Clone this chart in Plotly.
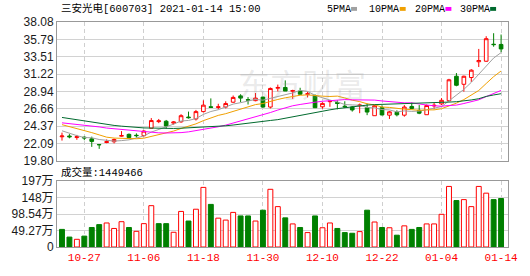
import plotly.graph_objects as go
import pandas as pd

# ---------------- data ----------------
dates = [d.strftime("%m-%d") for d in pd.bdate_range("2020-10-22", "2021-01-14")
         if d.strftime("%Y-%m-%d") != "2021-01-01"]

opens = [22.95, 23.05, 22.85, 22.90, 22.68, 21.93, 22.20, 22.30, 23.04, 23.27,
         23.15, 23.10, 24.08, 24.95, 25.00, 24.75, 24.92, 25.55, 25.30, 26.27,
         26.91, 26.82, 26.87, 27.51, 28.34, 27.85, 27.71, 28.18, 26.87, 29.35,
         29.45, 28.95, 28.98, 28.55, 28.39, 26.90, 27.58, 27.47, 26.98, 26.87,
         27.04, 26.78, 25.73, 26.78, 25.80, 26.18, 25.80, 26.95, 26.44, 25.86,
         27.02, 27.29, 27.71, 30.93, 29.87, 30.76, 32.84, 32.91, 35.15, 35.12]
highs = [23.50, 23.30, 23.20, 23.00, 22.97, 21.95, 22.60, 22.72, 23.70, 23.39,
         23.40, 23.82, 25.42, 25.30, 25.17, 25.00, 25.93, 26.27, 26.49, 27.76,
         28.01, 27.30, 27.63, 28.39, 28.56, 28.18, 28.72, 28.25, 29.45, 29.83,
         30.38, 29.15, 29.41, 28.90, 28.55, 27.50, 27.72, 27.76, 27.63, 27.00,
         27.33, 27.33, 27.16, 27.10, 26.36, 26.44, 27.13, 27.46, 27.13, 27.20,
         27.42, 28.05, 30.59, 31.35, 31.01, 31.86, 34.53, 36.21, 36.60, 36.43]
lows = [22.45, 22.75, 22.55, 22.50, 21.62, 21.36, 22.10, 22.08, 22.97, 22.72,
        22.85, 22.97, 24.03, 24.75, 24.03, 24.55, 24.79, 25.35, 25.09, 26.15,
        26.78, 26.57, 26.69, 27.42, 27.51, 27.20, 27.63, 26.78, 26.69, 28.93,
        28.98, 27.95, 28.47, 28.14, 26.78, 26.65, 26.90, 26.57, 26.78, 26.27,
        26.06, 25.80, 25.73, 25.77, 25.30, 25.64, 25.60, 26.57, 25.93, 25.86,
        26.57, 27.13, 27.63, 29.61, 28.90, 30.17, 32.15, 32.84, 34.82, 34.11]
closes = [23.05, 22.95, 22.97, 22.80, 22.34, 21.90, 22.30, 22.59, 23.10, 22.85,
          23.10, 23.70, 25.09, 25.05, 24.37, 24.90, 25.73, 25.47, 26.27, 27.12,
          26.82, 26.90, 27.33, 28.14, 28.05, 27.78, 28.05, 26.87, 29.32, 29.45,
          28.98, 29.05, 28.56, 28.62, 26.78, 27.35, 27.65, 27.35, 26.90, 26.49,
          27.13, 26.21, 27.04, 25.83, 26.24, 25.85, 26.87, 26.69, 26.06, 27.07,
          27.10, 27.76, 30.46, 29.74, 30.93, 31.73, 33.00, 35.88, 35.10, 34.53]
volumes = [526000, 296000, 230000, 325000, 583000, 669000, 718000, 554000, 756000, 583000,
           468000, 698000, 1235000, 698000, 698000, 440000, 1063000, 776000, 1129000, 1781000,
           1273000, 862000, 804000, 1034000, 928000, 928000, 776000, 1100000, 1724000, 1207000,
           871000, 690000, 583000, 431000, 928000, 575000, 718000, 554000, 431000, 411000,
           460000, 1100000, 747000, 583000, 575000, 353000, 632000, 526000, 583000, 690000,
           690000, 977000, 1810000, 1388000, 1416000, 1207000, 1810000, 1609000, 1416000, 1449466]
vol_up = [0, 0, 1, 0, 0, 0, 1, 1, 1, 0, 1, 1, 1, 0, 0, 1, 1, 0, 1, 1,
          0, 1, 1, 1, 0, 0, 1, 0, 1, 1, 0, 1, 0, 1, 0, 1, 1, 0, 0, 0,
          1, 0, 1, 0, 1, 0, 1, 0, 0, 1, 1, 1, 1, 0, 1, 1, 1, 1, 0, 0]

# moving-average values before each window is full
ma5_head = [23.74, 23.39, 23.10, 22.85]
ma10_head = [24.55, 24.30, 24.10, 23.85, 23.50, 23.20, 22.90, 22.78, 22.72]
ma20_head = [24.79, 24.70, 24.60, 24.45, 24.35, 24.25, 24.10, 24.00, 23.90, 23.80,
             23.70, 23.60, 23.52, 23.47, 23.45, 23.45, 23.50, 23.60, 23.75]
ma30_head = [25.50, 25.35, 25.20, 25.00, 24.85, 24.70, 24.60, 24.45, 24.35, 24.25,
             24.15, 24.12, 24.10, 24.07, 24.05, 24.05, 24.08, 24.12, 24.16, 24.20,
             24.24, 24.30, 24.40, 24.50, 24.60, 24.70, 24.80, 24.95, 25.10]

price_ticks = [19.80, 22.09, 24.37, 26.66, 28.94, 31.22, 33.51, 35.79, 38.08]
vol_ticks = [0, 492700, 985400, 1478100, 1970800]
vol_tick_text = ["0", "49.27万", "98.54万", "148万", "197万"]
tick_idx = [3, 11, 19, 27, 35, 43, 51, 59]
ma_names = ["5PMA", "10PMA", "20PMA", "30PMA"]
ma_colors = ["#a0a0a0", "#f0a000", "#ff00ff", "#006a2e"]
title_text = "三安光电[600703] 2021-01-14 15:00"

# ---------------- build ----------------
def moving_avg(n, head):
    s = pd.Series(closes).rolling(n).mean().tolist()
    return head + s[len(head):]

mas = [moving_avg(5, ma5_head), moving_avg(10, ma10_head),
       moving_avg(20, ma20_head), moving_avg(30, ma30_head)]

xs = list(range(len(closes)))
RED = "#ff0000"
GREEN = "#008000"

W, H = 530, 276
ML, MR, MT, MB = 55, 21, 22, 22
PW, PH = W - ML - MR, H - MT - MB
def px(x):
    return (x - ML) / PW
def py(y):
    return (H - MB - y) / PH

fig = go.Figure()
fig.add_trace(go.Candlestick(
    x=xs, open=opens, high=highs, low=lows, close=closes,
    increasing=dict(line=dict(color=RED, width=1), fillcolor="white"),
    decreasing=dict(line=dict(color=GREEN, width=1), fillcolor=GREEN),
    whiskerwidth=0, hoverinfo="skip", xaxis="x", yaxis="y"))
for vals, col in zip(mas, ma_colors):
    fig.add_trace(go.Scatter(x=xs, y=vals, mode="lines",
                             line=dict(color=col, width=1),
                             hoverinfo="skip", xaxis="x", yaxis="y"))
fig.add_trace(go.Bar(
    x=xs, y=volumes, width=0.66,
    marker=dict(color=["white" if u else GREEN for u in vol_up],
                line=dict(color=[RED if u else GREEN for u in vol_up], width=1)),
    hoverinfo="skip", xaxis="x2", yaxis="y2"))

xr = [-0.67, 59.93]
grid_common = dict(showline=True, linecolor="#999999", linewidth=1, mirror=True,
                   zeroline=False, ticks="")
fig.update_layout(
    width=W, height=H, margin=dict(l=ML, r=MR, t=MT, b=MB),
    paper_bgcolor="white", plot_bgcolor="white", showlegend=False,
    xaxis=dict(range=xr, anchor="y", domain=[0, 1], tickvals=tick_idx,
               showticklabels=False, showgrid=True, gridcolor="#cfcfcf",
               griddash="4px,3px", rangeslider=dict(visible=False), **grid_common),
    xaxis2=dict(range=xr, anchor="y2", domain=[0, 1], matches="x", tickvals=tick_idx,
                ticktext=[dates[i] for i in tick_idx],
                tickfont=dict(family="Liberation Mono", size=11, color=RED),
                showgrid=True, gridcolor="#cfcfcf", griddash="4px,3px", **grid_common),
    yaxis=dict(range=[price_ticks[0], price_ticks[-1]], domain=[py(165), 1],
               tickvals=price_ticks, ticktext=["%.2f" % v for v in price_ticks],
               tickfont=dict(family="Liberation Sans", size=12, color="#1a1a1a"),
               showgrid=True, gridcolor="#d2d2d2", **grid_common),
    yaxis2=dict(range=[0, vol_ticks[-1]], domain=[0, py(186)],
                tickvals=vol_ticks, ticktext=vol_tick_text,
                tickfont=dict(family="Liberation Sans, Noto Sans CJK SC", size=12, color="#1a1a1a"),
                showgrid=True, gridcolor="#d2d2d2", **grid_common),
)

mono = "Liberation Mono, Noto Sans CJK SC"
ann = [
    dict(text=title_text, x=px(57), y=py(8), xanchor="left", yanchor="middle",
         font=dict(family=mono, size=10.5, color="#000")),
    dict(text="成交量:%d" % volumes[-1], x=px(57), y=py(177), xanchor="left", yanchor="middle",
         font=dict(family=mono, size=10.5, color="#000")),
    dict(text="东方财富", x=px(302), y=py(85), xanchor="center", yanchor="middle",
         font=dict(family="Noto Sans CJK SC", size=32, color="rgba(150,150,150,0.2)")),
]
leg_text_x = [325, 367, 413, 459]
leg_mark_x = [351, 400, 446, 491]
shapes = []
for name, col, tx, mx in zip(ma_names, ma_colors, leg_text_x, leg_mark_x):
    ann.append(dict(text=name, x=px(tx), y=py(9), xanchor="left", yanchor="middle",
                    font=dict(family="Liberation Mono", size=10, color="#000")))
    shapes.append(dict(type="rect", xref="paper", yref="paper",
                       x0=px(mx), x1=px(mx + 6), y0=py(10.5), y1=py(6.5),
                       fillcolor=col, line=dict(width=0)))
for a in ann:
    a.update(xref="paper", yref="paper", showarrow=False)
fig.update_layout(annotations=ann, shapes=shapes)

fig.write_html("out.html")
